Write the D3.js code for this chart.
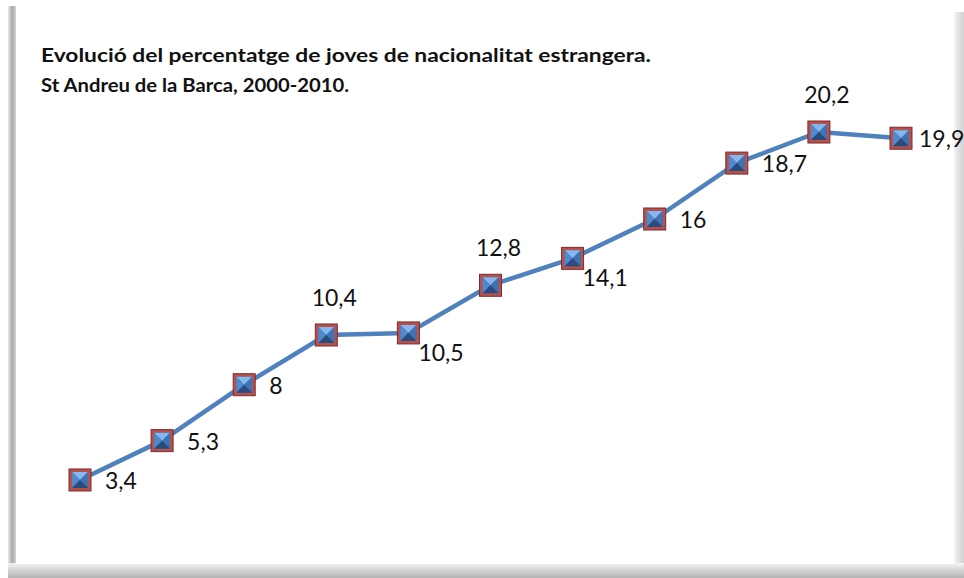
<!DOCTYPE html>
<html>
<head>
<meta charset="utf-8">
<script src="https://cdn.jsdelivr.net/npm/d3@7"></script>
<style>
html,body{margin:0;padding:0;background:#fff;}
svg{display:block;}
</style>
</head>
<body>
<svg id="chart" width="964" height="578"></svg>
<script>
const years = [2000,2001,2002,2003,2004,2005,2006,2007,2008,2009,2010];
const values = [3.4,5.3,8,10.4,10.5,12.8,14.1,16,18.7,20.2,19.9];
const labels = ["3,4","5,3","8","10,4","10,5","12,8","14,1","16","18,7","20,2","19,9"];
const labelPos = ["right","right","right","above","below","above","below","right","right","above","edge"];
const titleLines = ["Evolució del percentatge de joves de nacionalitat estrangera.","St Andreu de la Barca, 2000-2010."];

const svg = d3.select("#chart");
const defs = svg.append("defs");

function grad(id, x1,y1,x2,y2, stops){
  const g = defs.append("linearGradient").attr("id",id)
    .attr("x1",x1).attr("y1",y1).attr("x2",x2).attr("y2",y2);
  stops.forEach(s=>g.append("stop").attr("offset",s[0]).attr("stop-color",s[1]));
}
grad("gl","0","0","1","0",[[0,"#ececec"],[0.45,"#a8a8a8"],[1,"#e0e0e0"]]);
grad("gr","0","0","1","0",[[0,"#ffffff"],[0.5,"#e4e4e4"],[1,"#d0d0d0"]]);
grad("gb","0","0","0","1",[[0,"#f4f4f4"],[0.5,"#d2d2d2"],[1,"#b4b4b4"]]);

// frame shading
svg.append("rect").attr("x",8).attr("y",6).attr("width",9).attr("height",572).attr("fill","url(#gl)");
svg.append("rect").attr("x",952).attr("y",12).attr("width",12).attr("height",566).attr("fill","url(#gr)");
svg.append("rect").attr("x",8).attr("y",563).attr("width",956).attr("height",15).attr("fill","url(#gb)");
svg.append("rect").attr("x",16).attr("y",4).attr("width",938).attr("height",560).attr("fill","#ffffff");

// title
const tl = [610, 308];
titleLines.forEach((t,i)=>svg.append("text").attr("x",41).attr("y",62+i*30)
  .attr("font-family","Lato, 'Open Sans', sans-serif").attr("font-weight","bold")
  .attr("font-size",19).attr("fill","#111")
  .attr("textLength",tl[i]).attr("lengthAdjust","spacingAndGlyphs")
  .text(t));

// scales
const x = d3.scalePoint().domain(years).range([80,901]);
const y = d3.scaleLinear().domain([0,25]).range([550.4,32.6]);

const data = years.map((yr,i)=>({yr, v:values[i], lab:labels[i], pos:labelPos[i]}));

const line = d3.line().x(d=>x(d.yr)).y(d=>y(d.v));
svg.append("path").datum(data).attr("d",line)
  .attr("fill","none").attr("stroke","#4f81bd").attr("stroke-width",4.5)
  .attr("stroke-linejoin","round");

// markers
const m = svg.selectAll("g.mk").data(data).enter().append("g")
  .attr("class","mk").attr("transform",d=>`translate(${x(d.yr)},${y(d.v)})`);
const s = 11, b = 8;
m.append("rect").attr("x",-s).attr("y",-s).attr("width",2*s).attr("height",2*s)
  .attr("fill","#b8504e").attr("stroke","#7a2c2a").attr("stroke-width",1);
m.append("rect").attr("x",-b).attr("y",-b).attr("width",2*b).attr("height",2*b).attr("fill","#3c6aa6");
m.append("path").attr("d",`M${-b},${-b}L${b},${-b}L0,0Z`).attr("fill","#86b6ee");
m.append("path").attr("d",`M${-b},${-b}L0,0L${-b},${b}Z`).attr("fill","#5089cc");
m.append("path").attr("d",`M${b},${-b}L0,0L${b},${b}Z`).attr("fill","#3f73b4");
m.append("path").attr("d",`M${-b},${b}L0,0L${b},${b}Z`).attr("fill","#2a4c7c");

// labels
const off = {right:{dx:25,dy:9,a:"start"}, edge:{dx:18,dy:9,a:"start"},
             below:{dx:10,dy:28,a:"start"}, above:{dx:8,dy:-29,a:"middle"}};
svg.selectAll("text.lbl").data(data).enter().append("text")
  .attr("class","lbl")
  .attr("font-family","Lato, 'Open Sans', sans-serif").attr("font-size",23)
  .attr("fill","#111")
  .attr("x",d=>x(d.yr)+off[d.pos].dx)
  .attr("y",d=>y(d.v)+off[d.pos].dy)
  .attr("text-anchor",d=>off[d.pos].a)
  .text(d=>d.lab);
</script>
</body>
</html>
